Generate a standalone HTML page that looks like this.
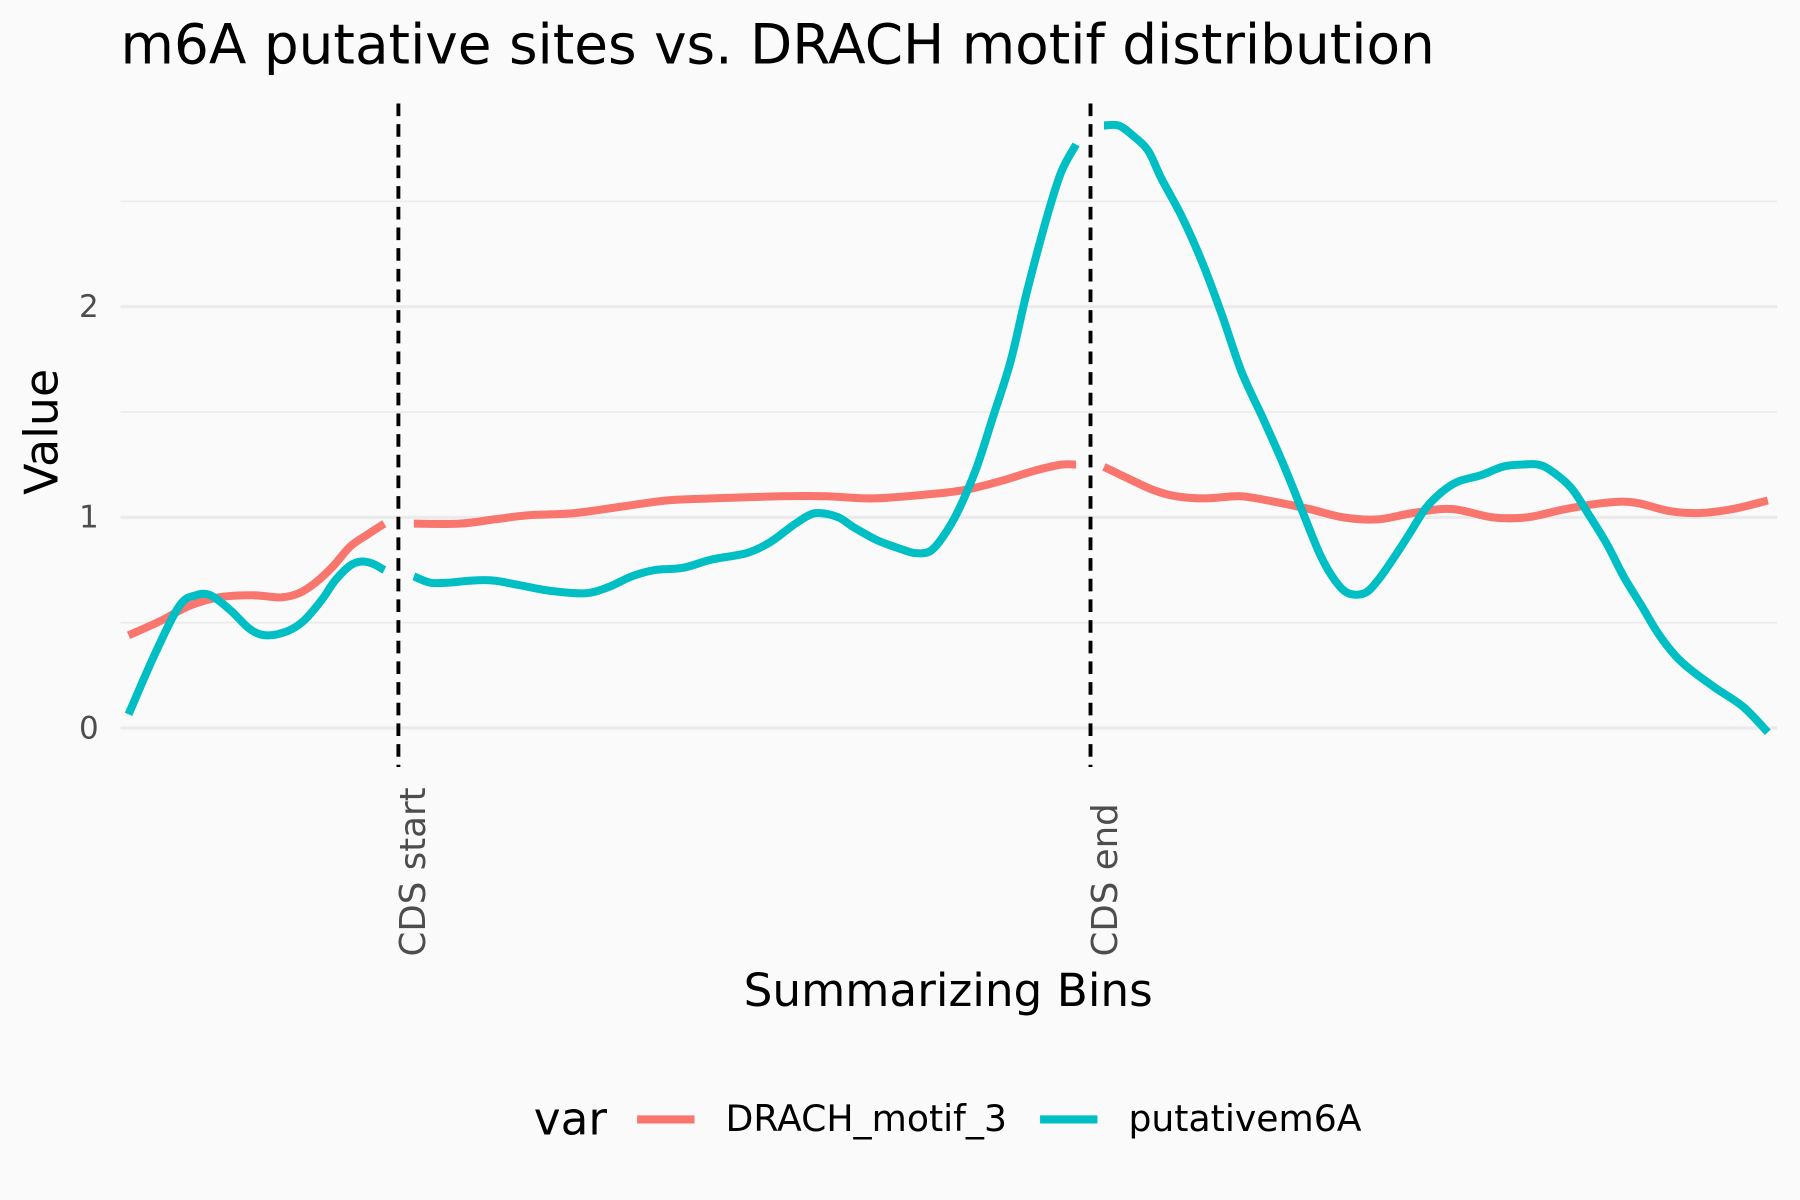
<!DOCTYPE html>
<html><head><meta charset="utf-8"><style>
html,body{margin:0;padding:0;background:#fafafa;}
svg{display:block;font-family:"DejaVu Sans","Liberation Sans",sans-serif;}
</style></head><body>
<svg id="chart" width="1800" height="1200" viewBox="0 0 1568 1045" xmlns="http://www.w3.org/2000/svg">
<rect x="0" y="0" width="1568" height="1045" fill="#fafafa"/>
<g id="grid"></g>
<g id="vlines"></g>
<g id="series"></g>
<g id="yticks"></g>
<text x="105" y="55" font-size="47.8" fill="#000">m6A putative sites vs. DRACH motif distribution</text>
<text transform="translate(50,376) rotate(-90)" text-anchor="middle" font-size="40" fill="#000">Value</text>
<text x="826" y="876" text-anchor="middle" font-size="39.5" fill="#000">Summarizing Bins</text>
<g>
<text x="465" y="988" font-size="39.5" fill="#000">var</text>
<line x1="555" y1="975" x2="605" y2="975" stroke="#F8766D" stroke-width="7"/>
<text x="632" y="985" font-size="31.5" fill="#000">DRACH_motif_3</text>
<line x1="906" y1="975" x2="956" y2="975" stroke="#00BFC4" stroke-width="7"/>
<text x="983" y="985" font-size="31.5" fill="#000">putativem6A</text>
</g>
</svg>
<script>
const yTicks = [0, 1, 2];
const yMinor = [0.5, 1.5, 2.5];
const markerNames = ["CDS start", "CDS end"];
const markerBins = [16.46, 58.68];
const tealX1 = [0,1.6,3.1,4.1,5.0,6.2,7.4,8.4,9.7,10.7,11.8,12.6,13.5,14.2,14.9,15.6];
const tealY1 = [0.065,0.35,0.58,0.63,0.63,0.56,0.47,0.44,0.46,0.51,0.61,0.70,0.77,0.79,0.78,0.75];
const tealX2 = [17.4,18.4,19.5,20.9,22.3,23.7,25.8,27.9,29.3,30.7,32.1,33.8,35.6,37.7,39.1,40.5,41.5,42.2,43.3,44.3,45.7,47.1,48.0,48.9,49.7,50.6,51.7,52.7,53.8,54.8,56.0,56.9,57.8];
const tealY2 = [0.72,0.69,0.69,0.70,0.70,0.68,0.65,0.64,0.67,0.72,0.75,0.76,0.80,0.83,0.88,0.96,1.01,1.02,1.00,0.95,0.89,0.85,0.83,0.84,0.91,1.03,1.23,1.47,1.74,2.07,2.42,2.64,2.77];
const tealX3 = [59.5,60.4,61.3,62.2,63.0,64.3,65.5,66.7,67.9,69.2,70.4,71.6,72.7,73.6,74.4,75.4,76.2,77.2,78.2,79.1,80.1,81.1,82.5,83.8,84.9,86.0,86.8,88.0,89.1,90.2,91.2,92.3,93.3,94.4,95.4,96.8,98.5,100];
const tealY3 = [2.86,2.86,2.81,2.74,2.61,2.42,2.21,1.96,1.69,1.47,1.26,1.03,0.82,0.70,0.64,0.64,0.70,0.81,0.93,1.04,1.12,1.17,1.20,1.24,1.25,1.25,1.22,1.14,1.01,0.87,0.72,0.58,0.45,0.34,0.27,0.19,0.10,-0.02];
const redX1 = [0,2.0,3.7,5.5,7.6,9.3,10.4,11.4,12.5,13.5,14.6,15.6];
const redY1 = [0.44,0.51,0.58,0.62,0.63,0.62,0.64,0.69,0.77,0.86,0.92,0.97];
const redX2 = [17.4,20.2,22.3,24.4,27.2,30.0,32.8,35.6,39.8,42.6,45.4,48.9,51.0,53.1,55.2,56.9,57.8];
const redY2 = [0.97,0.97,0.99,1.01,1.02,1.05,1.08,1.09,1.10,1.10,1.09,1.11,1.13,1.17,1.22,1.25,1.25];
const redX3 = [59.5,61.1,62.5,63.9,65.7,67.8,69.5,72.0,74.1,76.2,78.3,80.7,83.2,85.3,87.7,90.2,91.9,94.0,95.8,97.9,100];
const redY3 = [1.24,1.18,1.13,1.10,1.09,1.10,1.08,1.04,1.00,0.99,1.02,1.04,1.00,1.00,1.04,1.07,1.07,1.03,1.02,1.04,1.08];

const NS = "http://www.w3.org/2000/svg";
function xs(b){ return 112 + b * 14.28; }
function ys(v){ return 634 - v * 183.5; }
function mk(tag, attrs){ const e = document.createElementNS(NS, tag); for (const k in attrs) e.setAttribute(k, attrs[k]); return e; }

const grid = document.getElementById('grid');
yMinor.forEach(v => {
  const l = mk('line', {x1:105, x2:1548, y1:ys(v), y2:ys(v), stroke:'#ebebeb', 'stroke-width':1.4});
  
  
  grid.appendChild(l);
});
const yt = document.getElementById('yticks');
yTicks.forEach(v => {
  const l = mk('line', {x1:105, x2:1548, y1:ys(v), y2:ys(v), stroke:'#ebebeb', 'stroke-width':2.8});
  
  
  grid.appendChild(l);
  const t = mk('text', {x:86, y:ys(v)+9, 'text-anchor':'end', 'font-size':27, fill:'#4d4d4d'});
  t.textContent = String(v);
  
  
  yt.appendChild(t);
});
const vl = document.getElementById('vlines');
markerBins.forEach((b, i) => {
  const x = xs(b);
  const l = mk('line', {x1:x, x2:x, y1:90, y2:668, stroke:'#000', 'stroke-width':3.4, 'stroke-dasharray':'11,7'});
  
  
  vl.appendChild(l);
  const t = mk('text', {transform:'translate(' + (x + 23) + ',833) rotate(-90)', 'font-size':31, fill:'#4d4d4d'});
  t.textContent = markerNames[i];
  
  
  vl.appendChild(t);
});
const sg = document.getElementById('series');
function drawLine(X, Y, color, name){
  const P = X.map((b, i) => [xs(b), ys(Y[i])]);
  let d = 'M' + P[0][0].toFixed(1) + ',' + P[0][1].toFixed(1);
  for (let i = 0; i < P.length - 1; i++) {
    const p0 = P[Math.max(0, i-1)], p1 = P[i], p2 = P[i+1], p3 = P[Math.min(P.length-1, i+2)];
    const c1x = p1[0] + (p2[0]-p0[0])/6, c1y = p1[1] + (p2[1]-p0[1])/6;
    const c2x = p2[0] - (p3[0]-p1[0])/6, c2y = p2[1] - (p3[1]-p1[1])/6;
    d += ' C' + c1x.toFixed(1) + ',' + c1y.toFixed(1) + ' ' + c2x.toFixed(1) + ',' + c2y.toFixed(1) + ' ' + p2[0].toFixed(1) + ',' + p2[1].toFixed(1);
  }
  const p = mk('path', {d:d, fill:'none', stroke:color, 'stroke-width':7, 'stroke-linejoin':'round'});
  
  
  sg.appendChild(p);
}
drawLine(redX1, redY1, '#F8766D', 'drach-line-utr5');
drawLine(redX2, redY2, '#F8766D', 'drach-line-cds');
drawLine(redX3, redY3, '#F8766D', 'drach-line-utr3');
drawLine(tealX1, tealY1, '#00BFC4', 'putative-line-utr5');
drawLine(tealX2, tealY2, '#00BFC4', 'putative-line-cds');
drawLine(tealX3, tealY3, '#00BFC4', 'putative-line-utr3');
</script>
</body></html>
